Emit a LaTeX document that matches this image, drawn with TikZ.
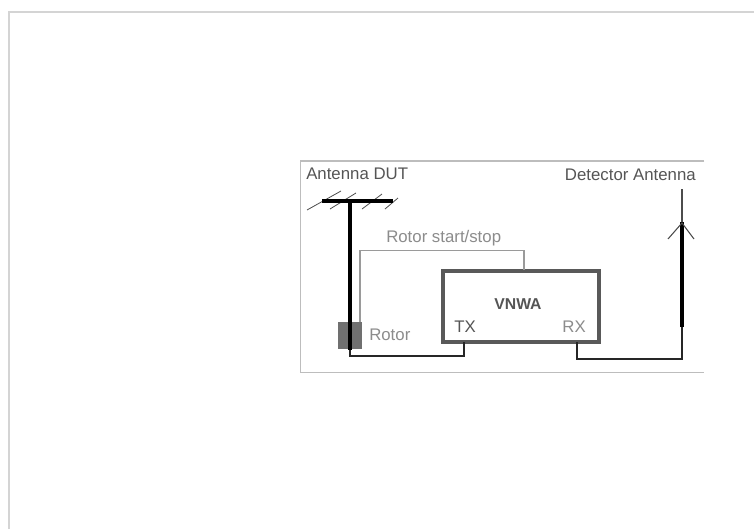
\documentclass[tikz,border=0pt]{standalone}
\usepackage{fontspec}
\setmainfont{Liberation Sans}
\definecolor{txtdark}{HTML}{555555}
\definecolor{txtlight}{HTML}{8C8C8C}
\definecolor{boxline}{HTML}{595959}
\definecolor{framec}{HTML}{BDBDBD}
\definecolor{sigline}{HTML}{9A9A9A}
\definecolor{rotorc}{HTML}{707070}
\definecolor{pagec}{HTML}{D4D4D4}
\tikzset{
  x=0.75pt,y=-0.75pt,
  lab/.style={font=\fontsize{12.6pt}{14pt}\selectfont,inner sep=0pt,text=txtdark},
  lablight/.style={lab,text=txtlight},
  mast/.style={line width=3pt,black},
  coax/.style={line width=1.5pt,black!85},
  element/.style={line width=0.6pt,black!70},
  signal/.style={line width=0.9pt,sigline},
}
\begin{document}
\begin{tikzpicture}
\useasboundingbox (0,0) rectangle (754,529);
\fill[white] (0,0) rectangle (754,529);
% page edge
\draw[pagec,line width=1.5pt] (9,529) -- (9,12) -- (754,12);
\draw[framec,line width=0.8pt] (704,161) -- (300.5,161) -- (300.5,372.5) -- (704,372.5);
% coordinates
\coordinate (boomL) at (322,201);
\coordinate (boomR) at (393,201);
\coordinate (mastT) at (350,201);
\coordinate (mastB) at (350,350);
\coordinate (coaxB) at (350,356);
\coordinate (coaxC) at (464,356);
\coordinate (sigA) at (360,322);
\coordinate (sigB) at (360,250.5);
\coordinate (sigC) at (524,250.5);
\coordinate (rxB) at (577,359);
\coordinate (rxC) at (682,359);
\coordinate (detB) at (682,327);
\coordinate (detT) at (682,222);
\coordinate (detTip) at (682,189);
\coordinate (elL) at (668,239);
\coordinate (elR) at (694,239);
\coordinate (elM) at (682,223);
% rotor
\node[draw=none,fill=rotorc,minimum width=18pt,minimum height=20.25pt,inner sep=0pt] (rotor) at (350,335.5) {};
% VNWA box
\node[draw=boxline,line width=3pt,fill=white,minimum width=117pt,minimum height=53.25pt,inner sep=0pt] (vnwa) at (521,306.5) {};
\coordinate (tx) at (464,342);
\coordinate (rx) at (577,342);
\coordinate (sigD) at (524,270);
% elements
\draw[element] (307,210) -- (341,191);
\draw[element] (330,209) -- (356,193);
\draw[element] (362,209) -- (382,194);
\draw[element] (385,209) -- (398,198);
% antenna
\draw[mast] (boomL) -- (boomR);
\draw[mast] (mastT) -- (mastB);
\draw[coax] (mastB) -- (coaxB) -- (coaxC) -- (tx);
\draw[signal] (sigA) -- (sigB) -- (sigC) -- (sigD);
\draw[coax] (rx) -- (rxB) -- (rxC) -- (detB);
\draw[mast] (detB) -- (detT);
\draw[element,line width=0.8pt] (detT) -- (detTip);
\draw[element,line width=0.8pt] (elL) -- (elM) -- (elR);
% labels
\node[lab,anchor=west] (dut) at (306,173.5) {Antenna DUT};
\node[lab,anchor=east] (det) at (696,175) {Detector Antenna};
\node[lablight,anchor=west] (rs) at (386,238) {Rotor start/stop};
\node[lablight,anchor=west] (rot) at (369,335) {Rotor};
\node[lab,font=\fontsize{11.8pt}{14pt}\selectfont\bfseries,anchor=center] (title) at (518,304) {VNWA};
\node[lab,anchor=west] (txl) at (454,327) {TX};
\node[lablight,anchor=east] (rxl) at (586,327) {RX};
\end{tikzpicture}
\end{document}
